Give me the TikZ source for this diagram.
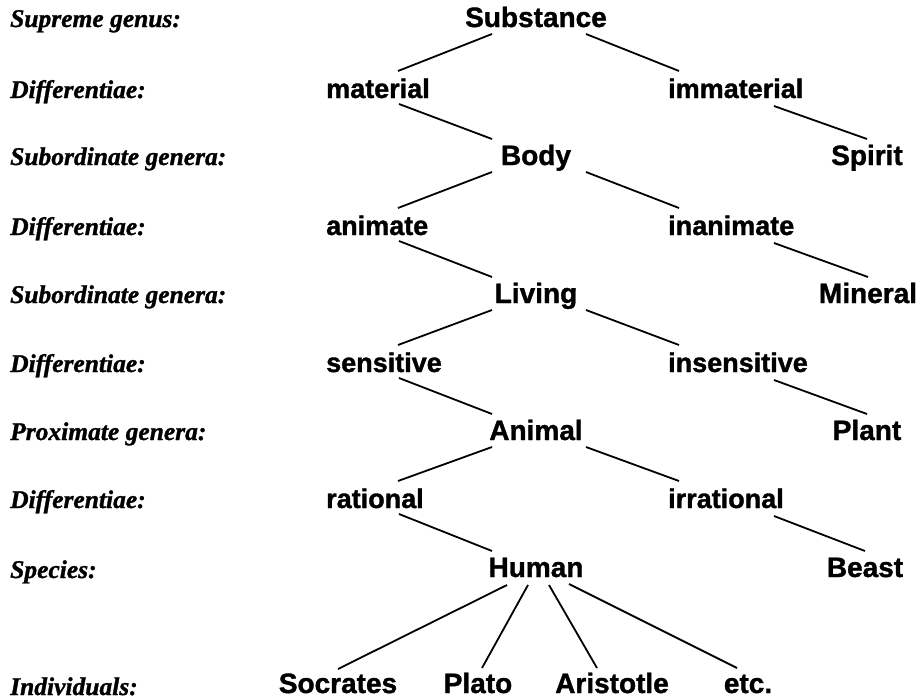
\documentclass[tikz,border=0pt]{standalone}
\usepackage{fontspec}
\setmainfont{Liberation Serif}[BoldItalicFeatures={FakeBold=1.2}]
\setsansfont{Liberation Sans}[BoldFeatures={FakeBold=1.3}]
\usetikzlibrary{calc}
\begin{document}
\begin{tikzpicture}[x=1pt,y=-1pt,
  lab/.style={anchor=base west,inner sep=0pt,font=\fontsize{25.5}{30}\selectfont\bfseries\itshape},
  gen/.style={anchor=base,inner sep=0pt,font=\fontsize{28}{32}\selectfont\sffamily\bfseries},
  dif/.style={anchor=base west,inner sep=0pt,font=\fontsize{27}{32}\selectfont\sffamily\bfseries},
  edge/.style={line width=1.8pt,black}]
\useasboundingbox (0,0) rectangle (923,699);
% left labels
\node[lab] (l1) at (10,27) {Supreme genus:};
\node[lab] (l2) at (10,98) {Differentiae:};
\node[lab] (l3) at (10,165) {Subordinate genera:};
\node[lab] (l4) at (10,235) {Differentiae:};
\node[lab] (l5) at (10,303) {Subordinate genera:};
\node[lab] (l6) at (10,372) {Differentiae:};
\node[lab] (l7) at (10,440) {Proximate genera:};
\node[lab] (l8) at (10,508) {Differentiae:};
\node[lab] (l9) at (10,578) {Species:};
\node[lab] (l10) at (10,695) {Individuals:};
% genera
\node[gen] (sub) at (536,27) {Substance};
\node[gen] (body) at (536,165) {Body};
\node[gen] (spi) at (867,165) {Spirit};
\node[gen] (liv) at (536,303) {Living};
\node[gen] (min) at (868,303) {Mineral};
\node[gen] (ani) at (536,440) {Animal};
\node[gen] (pla) at (867,440) {Plant};
\node[gen] (hum) at (536,577) {Human};
\node[gen] (bea) at (865,577) {Beast};
% differentiae
\node[dif] (mat) at (326,98) {material};
\node[dif] (imm) at (668,98) {immaterial};
\node[dif] (anim) at (326,235) {animate};
\node[dif] (inan) at (668,235) {inanimate};
\node[dif] (sen) at (326,372) {sensitive};
\node[dif] (ins) at (668,372) {insensitive};
\node[dif] (rat) at (326,508) {rational};
\node[dif] (irr) at (668,508) {irrational};
% individuals
\node[gen] (soc) at (338,693) {Socrates};
\node[gen] (pla2) at (478,693) {Plato};
\node[gen] (ari) at (612,693) {Aristotle};
\node[gen] (etc) at (748,693) {etc.};
% edges
\foreach \g/\l/\r in {sub/mat/imm, body/anim/inan, liv/sen/ins, ani/rat/irr}{
  \draw[edge] ($(\g.base)+(-44,7)$) -- ($(\l.base west)+(72,-27)$);
  \draw[edge] ($(\g.base)+(50,7)$) -- ($(\r.base west)+(11,-27)$);
}
\foreach \d/\g in {mat/body, anim/liv, sen/ani, rat/hum}{
  \draw[edge] ($(\d.base west)+(73,6)$) -- ($(\g.base)+(-44,-26)$);
}
\foreach \d/\g in {imm/spi, inan/min, ins/pla, irr/bea}{
  \draw[edge] ($(\d.base west)+(106,8)$) -- ($(\g.base)+(0,-26)$);
}
\draw[edge] ($(hum.base)+(-29,8)$) -- ($(soc.base)+(0,-24)$);
\draw[edge] ($(hum.base)+(-8,8)$) -- ($(pla2.base)+(4,-25)$);
\draw[edge] ($(hum.base)+(13,8)$) -- ($(ari.base)+(-15,-25)$);
\draw[edge] ($(hum.base)+(33,7)$) -- ($(etc.base)+(-11,-25)$);
\end{tikzpicture}
\end{document}
